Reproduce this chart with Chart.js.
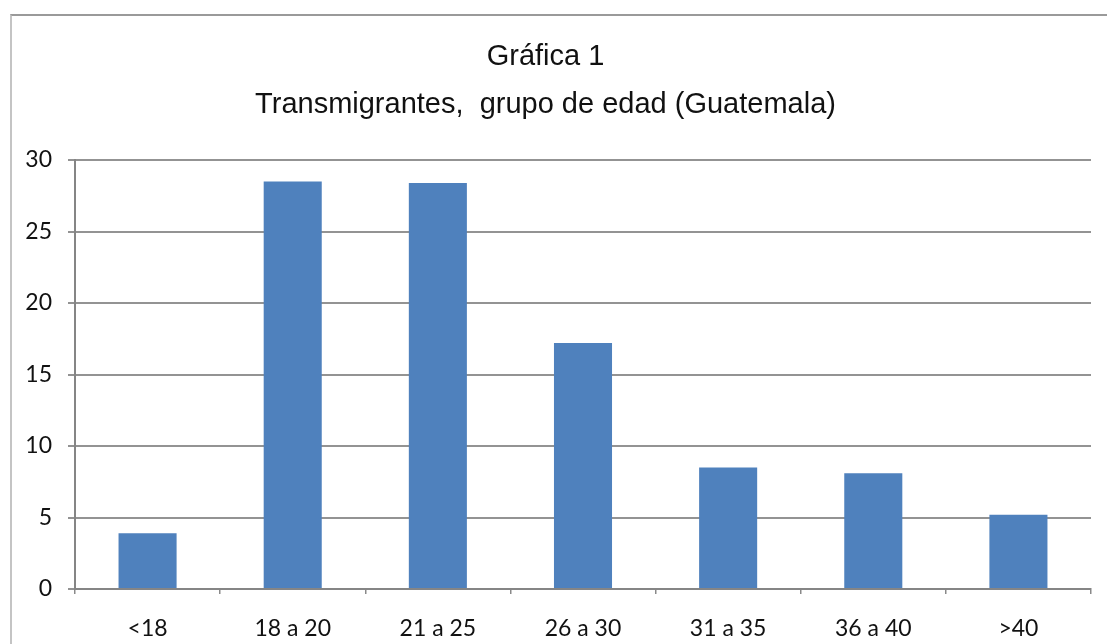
<!DOCTYPE html>
<html>
<head>
<meta charset="utf-8">
<script src="https://cdn.jsdelivr.net/npm/chart.js@4/dist/chart.umd.min.js"></script>
<style>
  html, body { margin: 0; padding: 0; background: #fff; overflow: hidden; }
  #wrap { position: relative; width: 1107px; height: 644px; }
  #frame { position: absolute; left: 10px; top: 14px; width: 1200px; height: 800px;
           border-top: 2px solid #9a9a9a; border-left: 2px solid #c4c4c4; }
  canvas { position: absolute; left: 0; top: 0; }
</style>
</head>
<body>
<div id="wrap">
  <div id="frame"></div>
  <canvas id="c" width="1107" height="644"></canvas>
</div>
<script>
const titleLines = ['Gráfica 1', 'Transmigrantes,  grupo de edad (Guatemala)'];
const categories = ['<18', '18 a 20', '21 a 25', '26 a 30', '31 a 35', '36 a 40', '>40'];
const values = [3.9, 28.5, 28.4, 17.2, 8.5, 8.1, 5.2];
const yTicks = [0, 5, 10, 15, 20, 25, 30];

new Chart(document.getElementById('c'), {
  type: 'bar',
  data: {
    labels: categories,
    datasets: [{
      data: values,
      backgroundColor: '#4F81BD',
      borderWidth: 0,
      categoryPercentage: 1.0,
      barPercentage: 0.4
    }]
  },
  options: {
    responsive: false,
    animation: false,
    devicePixelRatio: 1,
    layout: { padding: { left: 0, right: 16, top: 0, bottom: 0 } },
    plugins: {
      legend: { display: false },
      tooltip: { enabled: false },
      title: {
        display: true,
        text: titleLines,
        color: '#111',
        font: { family: 'Liberation Sans, Arial, sans-serif', size: 29, weight: 'normal', lineHeight: 48 / 29 },
        padding: { top: 33, bottom: 31 }
      }
    },
    scales: {
      x: {
        grid: { display: true, drawOnChartArea: false, drawTicks: true, tickLength: 5, color: '#8a8a8a', lineWidth: 1.5 },
        border: { display: true, color: '#858585', width: 2 },
        ticks: { color: '#111', font: { family: 'Lato, sans-serif', size: 23 }, padding: 21, maxRotation: 0 },
        afterFit: s => { s.height = 55; }
      },
      y: {
        min: 0, max: 30,
        afterBuildTicks: s => { s.ticks = yTicks.map(v => ({ value: v })); },
        grid: { color: '#939393', lineWidth: 2, drawTicks: true, tickLength: 7 },
        border: { display: true, color: '#858585', width: 2 },
        ticks: { color: '#111', font: { family: 'Lato, sans-serif', size: 23 }, padding: 16 },
        afterFit: s => { s.width = 75; }
      }
    }
  }
});
</script>
</body>
</html>
